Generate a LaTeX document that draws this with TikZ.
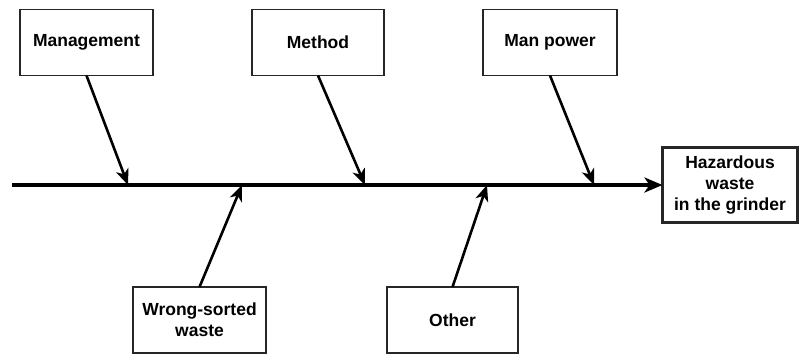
\documentclass[tikz,border=0pt]{standalone}
\usepackage{fontspec}
\setmainfont{Liberation Sans}
\usetikzlibrary{arrows.meta}
\tikzset{
  cause/.style={draw=black!85, line width=1.6pt, rectangle, inner sep=0pt, outer sep=0pt,
    align=center, font=\fontsize{17.5}{21}\selectfont\bfseries},
  effect/.style={cause, line width=2.6pt},
  bone/.style={line width=2.6pt, -{Stealth[length=16pt, width=13pt, inset=4.5pt]}},
  spine/.style={line width=3.2pt, -{Stealth[length=18pt, width=15pt, inset=5pt]}}
}
\begin{document}
\begin{tikzpicture}[x=1pt, y=-1pt]
\useasboundingbox (0,0) rectangle (800,354);
\node[cause, minimum width=133pt, minimum height=66pt] (mg) at (86.5,42.5) {Management};
\node[cause, minimum width=132pt, minimum height=66pt] (me) at (318,42.5) {Method};
\node[cause, minimum width=134pt, minimum height=66pt] (mp) at (550,42.5) {Man power};
\node[cause, minimum width=133pt, minimum height=66pt] (ws) at (199.5,320) {Wrong-sorted\\waste};
\node[cause, minimum width=131pt, minimum height=66pt] (ot) at (452.5,320) {Other};
\node[effect, minimum width=135pt, minimum height=75pt] (hz) at (730,185) {Hazardous\\waste\\in the grinder};
\coordinate (s0) at (12,185);
\coordinate (p1) at (128,185);
\coordinate (p2) at (365,185);
\coordinate (p3) at (594,185);
\coordinate (p4) at (242,185);
\coordinate (p5) at (487,185);
\draw[spine] (s0) -- (hz.west);
\draw[bone] (mg.south) -- (p1);
\draw[bone] (me.south) -- (p2);
\draw[bone] (mp.south) -- (p3);
\draw[bone] (ws.north) -- (p4);
\draw[bone] (ot.north) -- (p5);
\end{tikzpicture}
\end{document}
